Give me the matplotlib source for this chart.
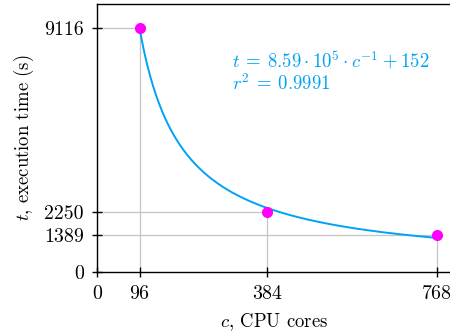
import numpy as np
import matplotlib
matplotlib.use("Agg")
from matplotlib import pyplot as plt

cores = [96, 384, 768]
times = [9116, 2250, 1389]
fit_a = 8.59e5
fit_b = 152
r2 = 0.9991

xticks = [0, 96, 384, 768]
yticks = [0, 1389, 2250, 9116]

plt.rcParams["font.family"] = "serif"
plt.rcParams["font.serif"] = ["cmr10", "DejaVu Serif"]
plt.rcParams["mathtext.fontset"] = "cm"
plt.rcParams["axes.unicode_minus"] = False

curve_color = "#00a2f5"
grey = "#c4c4c4"

fig = plt.figure(figsize=(4.5, 3.35), dpi=100)
ax = fig.add_axes([97 / 450, 63 / 335, 354 / 450, 268 / 335])

# drop lines from each point to the axes
for c, t in zip(cores, times):
    ax.plot([0, c], [t, t], color=grey, lw=0.9, zorder=1)
    ax.plot([c, c], [0, t], color=grey, lw=0.9, zorder=1)

cs = np.linspace(cores[0], cores[-1], 300)
ax.plot(cs, fit_a / cs + fit_b, color=curve_color, lw=1.4, zorder=2)
ax.plot(cores, times, "o", color="#ff00ff", ms=7, zorder=3, clip_on=False)

ax.set_xlim(0, 799)
ax.set_ylim(0, 10000)
ax.set_xticks(xticks)
ax.set_yticks(yticks)
ax.set_xticklabels([str(v) for v in xticks])
ax.set_yticklabels([str(v) for v in yticks])
ax.tick_params(direction="inout", length=7, width=1, labelsize=14.3, pad=6)
ax.spines["right"].set_visible(False)
for s in ["left", "bottom", "top"]:
    ax.spines[s].set_linewidth(1)

ax.set_xlabel(r"$c$, CPU cores", fontsize=13.5, labelpad=6)
ax.set_ylabel(r"$t$, execution time (s)", fontsize=13.5, labelpad=6)

ax.text(305, 7900, r"$t\:=\:8.59 \cdot 10^5 \cdot c^{-1}\:+\:152$",
        color=curve_color, fontsize=13.5, va="center")
ax.text(305, 7030, r"$r^2\:=\:0.9991$", color=curve_color, fontsize=13.5, va="center")

fig.savefig("out.png", dpi=100)
